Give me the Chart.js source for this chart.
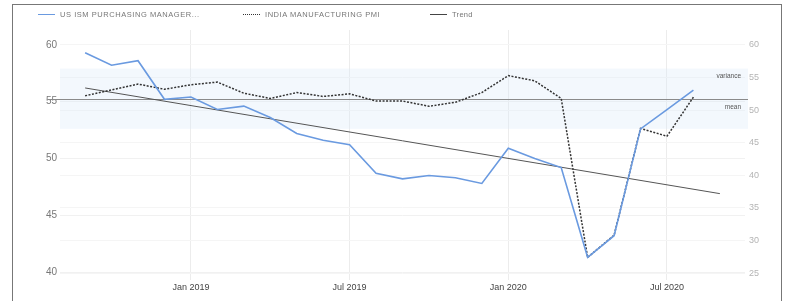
<!DOCTYPE html>
<html>
<head>
<meta charset="utf-8">
<script src="https://cdn.jsdelivr.net/npm/chart.js@4.4.1/dist/chart.umd.min.js"></script>
<style>
  html,body{margin:0;padding:0;background:#fff;}
  #wrap{position:relative;width:791px;height:301px;overflow:hidden;font-family:"Liberation Sans",Arial,sans-serif;}
  #frame{position:absolute;left:12px;top:4px;width:768px;height:320px;border:1px solid #777;border-bottom:none;pointer-events:none;}
  canvas{position:absolute;left:0;top:0;}
  .lg{position:absolute;top:10px;font-size:7.5px;letter-spacing:0.55px;color:#777;white-space:nowrap;line-height:10px;}
  .lg i{display:inline-block;width:17px;height:0;vertical-align:middle;margin-right:5px;position:relative;top:-1px;}
</style>
</head>
<body>
<div id="wrap">
  <canvas id="c" width="791" height="301"></canvas>
  <div id="frame"></div>
  <div class="lg" style="left:38px"><i style="border-top:1.5px solid #6a9ae0"></i>US ISM PURCHASING MANAGER...</div>
  <div class="lg" style="left:243px"><i style="border-top:1.5px dotted #333"></i>INDIA MANUFACTURING PMI</div>
  <div class="lg" style="left:430px;letter-spacing:0.3px"><i style="border-top:1.5px solid #444"></i>Trend</div>
</div>
<script>
// months Sep 2018 .. Sep 2020
const months = ['Sep 2018','Oct 2018','Nov 2018','Dec 2018','Jan 2019','Feb 2019','Mar 2019','Apr 2019','May 2019',
  'Jun 2019','Jul 2019','Aug 2019','Sep 2019','Oct 2019','Nov 2019','Dec 2019','Jan 2020','Feb 2020','Mar 2020',
  'Apr 2020','May 2020','Jun 2020','Jul 2020','Aug 2020','Sep 2020'];

const ism = [59.3,58.2,58.6,55.2,55.4,54.3,54.6,53.6,52.2,51.6,51.2,48.7,48.2,48.5,48.3,47.8,
  50.9,50.0,49.2,41.3,43.2,52.6,54.3,56.0];

const india = [52.2,53.1,54.0,53.2,53.9,54.3,52.6,51.8,52.7,52.1,52.5,51.4,51.4,50.6,51.2,52.7,
  55.3,54.5,51.8,27.4,30.8,47.2,46.0,52.0];

const trendMonths = ['Sep 2018','Sep 2020'];
const trendValues = [56.2, 46.9];

const tickMonths = ['Jan 2019','Jul 2019','Jan 2020','Jul 2020'];
const leftTicks = [40,45,50,55,60];
const rightTicks = [25,30,35,40,45,50,55,60];

const meanValue = 55.2;
const bandLow = 52.6, bandHigh = 57.9;

const toPts = arr => arr.map((v,i)=>({x:i, y:v}));

const bandPlugin = {
  id:'band',
  beforeDatasetsDraw(chart){
    const {ctx, chartArea:a, scales:{y}} = chart;
    const top = y.getPixelForValue(bandHigh), bot = y.getPixelForValue(bandLow);
    ctx.save();
    ctx.fillStyle = 'rgba(215,232,250,0.3)';
    ctx.fillRect(a.left, top, a.right-a.left+3, bot-top);
    const m = Math.round(y.getPixelForValue(meanValue))+0.5;
    ctx.strokeStyle = '#8a8a8a';
    ctx.lineWidth = 1;
    ctx.beginPath(); ctx.moveTo(a.left-12, m); ctx.lineTo(a.right+3, m); ctx.stroke();
    ctx.restore();
  },
  afterDatasetsDraw(chart){
    const {ctx, chartArea:a, scales:{y}} = chart;
    const m = y.getPixelForValue(meanValue);
    ctx.save();
    ctx.font = '6.5px "Liberation Sans", Arial, sans-serif';
    ctx.fillStyle = '#555';
    ctx.textAlign = 'right';
    ctx.textBaseline = 'middle';
    ctx.fillText('variance', a.right-4, m-23);
    ctx.fillText('mean', a.right-4, m+8);
    ctx.restore();
  }
};

new Chart(document.getElementById('c'), {
  type:'line',
  data:{ datasets:[
    {label:'US ISM PURCHASING MANAGER', data:toPts(ism), yAxisID:'y', borderColor:'#6a9ae0', borderWidth:1.6, pointRadius:0, tension:0},
    {label:'INDIA MANUFACTURING PMI', data:toPts(india), yAxisID:'y2', borderColor:'#333', borderWidth:1.5, borderDash:[2,1.5], pointRadius:0, tension:0},
    {label:'Trend', data:trendMonths.map((m,i)=>({x:months.indexOf(m), y:trendValues[i]})), yAxisID:'y', borderColor:'#555', borderWidth:1, pointRadius:0, tension:0}
  ]},
  options:{
    responsive:false, animation:false,
    layout:{ padding:{ top:30, left:0, right:0, bottom:0 } },
    plugins:{ legend:{display:false}, tooltip:{enabled:false} },
    scales:{
      x:{
        type:'linear', min:-0.95, max:24.95,
        afterBuildTicks(s){ s.ticks = tickMonths.map(m=>({value:months.indexOf(m)})); },
        ticks:{ callback:v=>months[v], color:'#444', font:{size:9, family:'"Liberation Sans", Arial, sans-serif'}, padding:2, maxRotation:0 },
        grid:{ color:'#ececec', drawTicks:false },
        border:{ display:false },
        afterFit(s){ s.height = 21; }
      },
      y:{
        position:'left', min:39.3, max:61.3,
        afterBuildTicks(s){ s.ticks = leftTicks.map(v=>({value:v})); },
        ticks:{ color:'#777', font:{size:10, family:'"Liberation Sans", Arial, sans-serif'}, padding:3 },
        grid:{ color:'#f1f1f1', drawTicks:false },
        border:{ display:false },
        afterFit(s){ s.width = 60; }
      },
      y2:{
        position:'right', min:23.93, max:62.3,
        afterBuildTicks(s){ s.ticks = rightTicks.map(v=>({value:v})); },
        ticks:{ color:'#b4b4b4', font:{size:9, family:'"Liberation Sans", Arial, sans-serif'}, padding:4 },
        grid:{ color:'#f5f5f5', drawTicks:false },
        border:{ display:false },
        afterFit(s){ s.width = 46; }
      }
    }
  },
  plugins:[bandPlugin]
});
</script>
</body>
</html>
